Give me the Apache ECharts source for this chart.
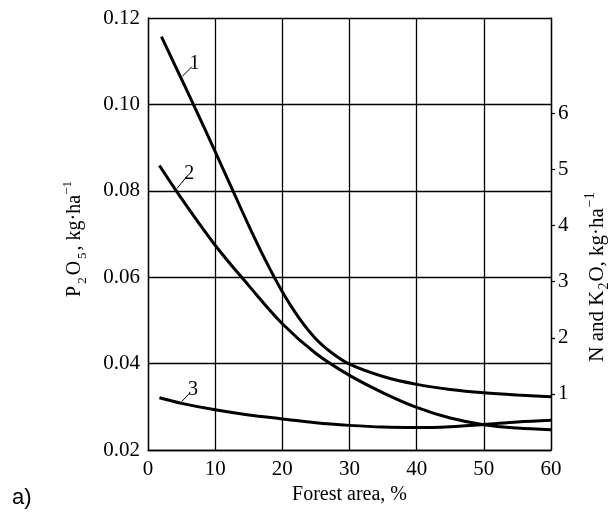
<!DOCTYPE html>
<html>
<head>
<meta charset="utf-8">
<script src="https://cdn.jsdelivr.net/npm/echarts@6/dist/echarts.min.js"></script>
<style>
  html, body { margin: 0; padding: 0; background: #fff; }
  #chart { width: 610px; height: 521px; }
</style>
</head>
<body>
<div id="chart"></div>
<script>
// Forest area (%) and nutrient losses.
// Curve 1 and 2: N and K2O (right axis, kg/ha); curve 3: P2O5 (left axis, kg/ha).
const curve1X = [2, 4, 7, 10, 12.5, 15, 17.5, 20, 22.5, 25, 27.5, 30, 35, 40, 45, 50, 55, 60];
const curve1Y = [7.37, 6.86, 6.1, 5.32, 4.66, 4.0, 3.38, 2.82, 2.35, 1.98, 1.72, 1.53, 1.31, 1.17, 1.08, 1.02, 0.98, 0.95];

const curve2X = [1.7, 5, 10, 15, 20, 25, 30, 35, 40, 45, 50, 55, 60];
const curve2Y = [5.07, 4.48, 3.65, 2.93, 2.25, 1.72, 1.33, 1.02, 0.76, 0.57, 0.45, 0.39, 0.36];

const curve3X = [1.7, 5, 10, 15, 20, 25, 30, 35, 40, 45, 50, 55, 60];
const curve3Y = [0.0321, 0.0308, 0.0293, 0.0281, 0.0272, 0.0263, 0.0257, 0.0253, 0.0252, 0.0254, 0.0259, 0.0265, 0.0269];

// Axis ticks
const xTicks = [0, 10, 20, 30, 40, 50, 60];
const leftTicks = [0.02, 0.04, 0.06, 0.08, 0.10, 0.12];
const rightTicks = [1, 2, 3, 4, 5, 6];

// Curve numbers with their leader segments (start on curve, end at the number)
const curveNames = ['1', '2', '3'];
const leader1 = [[5.1, 6.66], [6.52, 6.83]];
const leader2 = [[4.3, 4.66], [5.78, 4.875]];
const leader3 = [[5.0, 0.0312], [6.27, 0.03326]];

const serif = '"Liberation Serif", "DejaVu Serif", serif';
const black = '#000';

function pairs(xs, ys) { return xs.map((x, i) => [x, ys[i]]); }

function leader(seg, name) {
  return {
    silent: true,
    animation: false,
    symbol: ['none', 'none'],
    lineStyle: { color: black, width: 1, type: 'solid' },
    label: {
      show: true, position: 'end', distance: 4, formatter: name,
      fontFamily: serif, fontSize: 20, color: black
    },
    emphasis: { disabled: true },
    data: [[{ coord: seg[0] }, { coord: seg[1] }]]
  };
}

function curve(name, data, yAxisIndex, seg) {
  return {
    name: name,
    type: 'line',
    yAxisIndex: yAxisIndex,
    data: data,
    smooth: 0.35,
    showSymbol: false,
    silent: true,
    lineStyle: { color: black, width: 3 },
    markLine: leader(seg, name)
  };
}

const chart = echarts.init(document.getElementById('chart'), null, { renderer: 'canvas' });

const option = {
  animation: false,
  backgroundColor: '#fff',
  grid: { left: 148, right: 59, top: 18, bottom: 71, containLabel: false },
  xAxis: {
    type: 'value',
    min: xTicks[0], max: xTicks[xTicks.length - 1], interval: 10,
    name: 'Forest area, %',
    nameLocation: 'middle',
    nameGap: 33,
    nameTextStyle: { fontFamily: serif, fontSize: 20, color: black },
    axisLine: { show: true, lineStyle: { color: black, width: 1.3 } },
    axisTick: { show: false },
    axisLabel: { margin: 9, fontFamily: serif, fontSize: 21, color: black },
    splitLine: { show: true, lineStyle: { color: black, width: 1.3 } }
  },
  yAxis: [
    {
      type: 'value',
      position: 'left',
      min: leftTicks[0], max: leftTicks[leftTicks.length - 1], interval: 0.02,
      axisLine: { show: true, lineStyle: { color: black, width: 1.3 } },
      axisTick: { show: false },
      axisLabel: {
        margin: 8, fontFamily: serif, fontSize: 21, color: black,
        formatter: v => v.toFixed(2)
      },
      splitLine: { show: true, lineStyle: { color: black, width: 1.3 } }
    },
    {
      type: 'value',
      position: 'right',
      min: 0, max: 7.7, interval: 1,
      axisLine: { show: true, lineStyle: { color: black, width: 1.3 } },
      axisTick: { show: true, inside: false, length: 4, customValues: rightTicks,
                  lineStyle: { color: black, width: 1.2 } },
      axisLabel: { margin: 7, fontFamily: serif, fontSize: 21, color: black,
                   customValues: rightTicks },
      splitLine: { show: false }
    }
  ],
  graphic: [
    {
      type: 'text',
      x: 75, y: 239, rotation: Math.PI / 2,
      style: {
        text: '{t|P}{s|2}{t|O}{s|5}{t|, kg·ha}{p|−1}',
        align: 'center', verticalAlign: 'middle',
        fill: black,
        rich: {
          t: { fontFamily: serif, fontSize: 20, lineHeight: 28, verticalAlign: 'middle' },
          s: { fontFamily: serif, fontSize: 13, lineHeight: 13, verticalAlign: 'bottom', padding: [0, 2, 0, 2] },
          p: { fontFamily: serif, fontSize: 13, lineHeight: 13, verticalAlign: 'top' }
        }
      }
    },
    {
      type: 'text',
      x: 597, y: 277, rotation: Math.PI / 2,
      style: {
        text: '{t|N and K}{s|2}{t|O, kg·ha}{p|−1}',
        align: 'center', verticalAlign: 'middle',
        fill: black,
        rich: {
          t: { fontFamily: serif, fontSize: 21, lineHeight: 28, verticalAlign: 'middle' },
          s: { fontFamily: serif, fontSize: 14, lineHeight: 13, verticalAlign: 'bottom', padding: [0, 1, 0, 1] },
          p: { fontFamily: serif, fontSize: 14, lineHeight: 13, verticalAlign: 'top', padding: [0, 0, 0, 1] }
        }
      }
    },
    {
      type: 'text',
      left: 12, top: 487,
      style: {
        text: 'a)',
        fontFamily: '"Liberation Sans", Arial, sans-serif',
        fontSize: 22, fill: black
      }
    }
  ],
  series: [
    curve(curveNames[0], pairs(curve1X, curve1Y), 1, leader1),
    curve(curveNames[1], pairs(curve2X, curve2Y), 1, leader2),
    curve(curveNames[2], pairs(curve3X, curve3Y), 0, leader3)
  ]
};

chart.setOption(option);
</script>
</body>
</html>
